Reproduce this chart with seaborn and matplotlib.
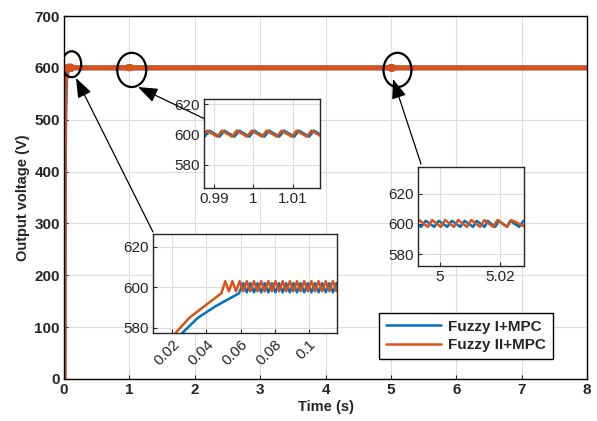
import numpy as np
import pandas as pd
import seaborn as sns
import matplotlib.pyplot as plt
from matplotlib.patches import Ellipse
from matplotlib.lines import Line2D

# ---- data (time in s, voltage in V) ----
# Fuzzy I+MPC
t_blue_start = [0, 0.002, 0.005, 0.01, 0.018, 0.0258, 0.035, 0.045, 0.059]
v_blue_start = [0, 200, 380, 490, 545, 577.5, 585, 590.5, 597]
t_blue_w1 = [0.0615, 0.0636, 0.0657, 0.0678, 0.0699, 0.0720, 0.0741, 0.0762, 0.0783,
             0.0804, 0.0825, 0.0846, 0.0867, 0.0888, 0.0909, 0.0930, 0.0951, 0.0972,
             0.0993, 0.1014, 0.1035, 0.1056, 0.1077, 0.1098, 0.1119, 0.1140, 0.1161, 0.1182]
v_blue_w1 = [602, 597.5, 602, 597.5, 602, 597.5, 602, 597.5, 602,
             597.5, 602, 597.5, 602, 597.5, 602, 597.5, 602, 597.5,
             602, 597.5, 602, 597.5, 602, 597.5, 602, 597.5, 602, 597.5]
t_blue_w2 = [0.9850, 0.9876, 0.9888, 0.9914, 0.9926, 0.9952, 0.9964, 0.9990, 1.0002,
             1.0028, 1.0040, 1.0066, 1.0078, 1.0104, 1.0116, 1.0142, 1.0154, 1.0180, 1.0192]
v_blue_w2 = [602.5, 598.5, 602.5, 598.5, 602.5, 598.5, 602.5, 598.5, 602.5,
             598.5, 602.5, 598.5, 602.5, 598.5, 602.5, 598.5, 602.5, 598.5, 602.5]
t_blue_w3 = [4.9911, 4.9939, 4.9954, 4.9982, 4.9997, 5.0025, 5.0040, 5.0068, 5.0082, 5.0110,
             5.0122, 5.0148, 5.0158, 5.0183, 5.0195, 5.0222, 5.0232, 5.0262, 5.0276, 5.0304]
v_blue_w3 = [602, 598, 602, 598, 602, 598, 602, 598, 602, 598,
             602, 598, 602, 598, 602, 598, 602, 598, 602, 598]

# Fuzzy II+MPC
t_red_start = [0, 0.002, 0.005, 0.01, 0.015, 0.0219, 0.03, 0.04, 0.0487]
v_red_start = [0, 250, 420, 520, 560, 577.5, 585, 591.5, 597]
t_red_w1 = [0.0510, 0.0531, 0.0552, 0.0573, 0.0594, 0.0615, 0.0636, 0.0657, 0.0678, 0.0699,
            0.0720, 0.0741, 0.0762, 0.0783, 0.0804, 0.0825, 0.0846, 0.0867, 0.0888, 0.0909,
            0.0930, 0.0951, 0.0972, 0.0993, 0.1014, 0.1035, 0.1056, 0.1077, 0.1098, 0.1119,
            0.1140, 0.1161, 0.1182]
v_red_w1 = [603, 598, 603, 598, 603, 598, 603, 598, 603, 598,
            603, 598, 603, 598, 603, 598, 603, 598, 603, 598,
            603, 598, 603, 598, 603, 598, 603, 598, 603, 598,
            603, 598, 603]
t_red_w2 = [0.9844, 0.9870, 0.9882, 0.9908, 0.9920, 0.9946, 0.9958, 0.9984, 0.9996,
            1.0022, 1.0034, 1.0060, 1.0072, 1.0098, 1.0110, 1.0136, 1.0148, 1.0174, 1.0186]
v_red_w2 = [602.5, 598.5, 602.5, 598.5, 602.5, 598.5, 602.5, 598.5, 602.5,
            598.5, 602.5, 598.5, 602.5, 598.5, 602.5, 598.5, 602.5, 598.5, 602.5]
t_red_w3 = [4.9889, 4.9918, 4.9932, 4.9961, 4.9975, 5.0004, 5.0018, 5.0047, 5.0061, 5.0090,
            5.0104, 5.0133, 5.0147, 5.0176, 5.0190, 5.0222, 5.0236, 5.0282, 5.0294]
v_red_w3 = [602.5, 598, 602.5, 598, 602.5, 598, 602.5, 598, 602.5, 598,
            602.5, 598, 602.5, 598, 602.5, 598, 602.5, 598, 602.5]

# steady state (~600 V) between the zoomed windows and to the end
t_gap1 = [0.12, 0.98]
t_gap2 = [1.022, 4.985]
t_end = [5.032, 8.0]
v_flat = [600, 600]

labels = ["Fuzzy I+MPC", "Fuzzy II+MPC"]
colors = ["#0072BD", "#D95319"]

t_blue = t_blue_start + t_blue_w1 + t_gap1 + t_blue_w2 + t_gap2 + t_blue_w3 + t_end
v_blue = v_blue_start + v_blue_w1 + v_flat + v_blue_w2 + v_flat + v_blue_w3 + v_flat
t_red = t_red_start + t_red_w1 + t_gap1 + t_red_w2 + t_gap2 + t_red_w3 + t_end
v_red = v_red_start + v_red_w1 + v_flat + v_red_w2 + v_flat + v_red_w3 + v_flat

df = pd.concat([
    pd.DataFrame({"Time": t_blue, "Voltage": v_blue, "Controller": labels[0]}),
    pd.DataFrame({"Time": t_red, "Voltage": v_red, "Controller": labels[1]}),
], ignore_index=True)

sns.set_style("whitegrid", {"grid.color": "#dcdcdc", "axes.edgecolor": "black",
                            "xtick.bottom": True, "ytick.left": True})
plt.rcParams["font.family"] = ["Liberation Sans", "DejaVu Sans"]
plt.rcParams["xtick.direction"] = "in"
plt.rcParams["ytick.direction"] = "in"

W, H = 597, 421
fig = plt.figure(figsize=(W / 100, H / 100), dpi=100)


def rect(x0, y0, x1, y1):
    # pixel box (top-left origin) -> figure fraction
    return [x0 / W, 1 - y1 / H, (x1 - x0) / W, (y1 - y0) / H]


def fpt(x, y):
    return (x / W, 1 - y / H)


pal = dict(zip(labels, colors))

# main axes
ax = fig.add_axes(rect(64, 16, 587, 379))
sns.lineplot(data=df, x="Time", y="Voltage", hue="Controller", palette=pal,
             estimator=None, sort=False, linewidth=3.6, legend=False, ax=ax)
ax.set_xlim(0, 8)
ax.set_ylim(0, 700)
ax.set_xticks(range(0, 9))
ax.set_yticks(range(0, 701, 100))
for lab in ax.get_xticklabels() + ax.get_yticklabels():
    lab.set_fontweight("bold")
ax.tick_params(labelsize=11, length=3, width=0.8, pad=3)
ax.set_xlabel("Time (s)", fontsize=10.5, fontweight="bold", labelpad=2)
ax.set_ylabel("Output voltage (V)", fontsize=10.5, fontweight="bold", labelpad=3)
for s in ax.spines.values():
    s.set_linewidth(1.0)
    s.set_color("black")
ax.grid(True, color="#dcdcdc", linewidth=0.8)

# circles marking the zoomed regions
for cx, cy, w, h in [(0.118, 607, 0.29, 50), (1.036, 596, 0.444, 66), (5.101, 596, 0.428, 66)]:
    ax.add_patch(Ellipse((cx, cy), w, h, fill=False, edgecolor="black", linewidth=1.6, zorder=5))

handles = [Line2D([0], [0], color=c, linewidth=1.8) for c in colors]
leg = ax.legend(handles, labels, loc="lower right", bbox_to_anchor=(0.935, 0.055),
                borderaxespad=0, prop={"weight": "bold", "size": 11}, handlelength=3.6,
                handletextpad=0.5, frameon=True, fancybox=False, edgecolor="black",
                framealpha=1, borderpad=0.45, labelspacing=0.3)
leg.get_frame().set_linewidth(1.0)

# insets
insets = [
    (rect(153, 234, 337, 333), (0.0087, 0.1164), (577.5, 626.2),
     [0.02, 0.04, 0.06, 0.08, 0.1], ["0.02", "0.04", "0.06", "0.08", "0.1"], 45),
    (rect(204, 99, 320, 188), (0.98745, 1.01697), (564.7, 623.3),
     [0.99, 1.0, 1.01], ["0.99", "1", "1.01"], 0),
    (rect(418, 167, 524, 266), (4.99285, 5.02778), (572.1, 637.6),
     [5.0, 5.02], ["5", "5.02"], 0),
]
for box, xl, yl, xt, xtl, rot in insets:
    iax = fig.add_axes(box)
    sns.lineplot(data=df, x="Time", y="Voltage", hue="Controller", palette=pal,
                 estimator=None, sort=False, linewidth=1.8, legend=False, ax=iax)
    iax.set_xlim(*xl)
    iax.set_ylim(*yl)
    iax.set_xticks(xt)
    iax.set_xticklabels(xtl, rotation=rot, ha="right" if rot else "center",
                        rotation_mode="anchor" if rot else "default")
    iax.set_yticks([580, 600, 620])
    iax.set_xlabel("")
    iax.set_ylabel("")
    iax.tick_params(labelsize=11, length=3, width=0.8, colors="#262626", pad=3)
    iax.grid(True, color="#dcdcdc", linewidth=0.8)
    for s in iax.spines.values():
        s.set_linewidth(1.0)
        s.set_color("#262626")

# arrows from insets to circles
for tail, tip in [((153, 232), (76, 78)), ((205, 119), (138, 87)), ((421, 164), (393, 79))]:
    ax.annotate("", xy=fpt(*tip), xycoords="figure fraction",
                xytext=fpt(*tail), textcoords="figure fraction",
                arrowprops=dict(arrowstyle="-|>,head_length=1.2,head_width=0.45",
                                color="black", linewidth=0.9, shrinkA=0, shrinkB=0),
                annotation_clip=False, zorder=6)

fig.savefig("out.png", dpi=100)
